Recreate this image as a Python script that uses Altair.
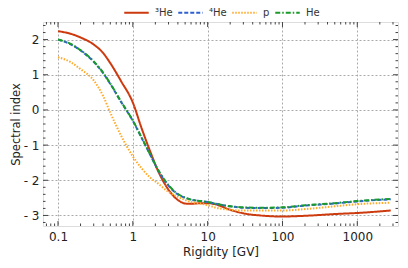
import altair as alt
import pandas as pd

# Rigidity grid (GV)
rigidity = [0.1, 0.15, 0.2, 0.3, 0.4, 0.5, 0.7, 1, 1.3, 1.7, 2.2, 3, 4, 5, 6, 8,
            10, 13, 20, 30, 50, 100, 200, 500, 1000, 2800]

he3 = [2.24, 2.16, 2.06, 1.86, 1.62, 1.33, 0.81, 0.21, -0.50, -1.17, -1.76, -2.27,
       -2.56, -2.66, -2.67, -2.65, -2.65, -2.69, -2.84, -2.94, -3.00, -3.03, -3.01,
       -2.96, -2.93, -2.86]
he4 = [2.00, 1.86, 1.69, 1.37, 1.05, 0.74, 0.22, -0.31, -0.78, -1.27, -1.73, -2.15,
       -2.40, -2.50, -2.55, -2.59, -2.62, -2.67, -2.74, -2.78, -2.79, -2.78, -2.72,
       -2.66, -2.60, -2.54]
prot = [1.50, 1.35, 1.16, 0.84, 0.40, -0.08, -0.74, -1.32, -1.65, -1.92, -2.10, -2.33,
        -2.47, -2.56, -2.62, -2.66, -2.71, -2.78, -2.84, -2.86, -2.86, -2.86, -2.82,
        -2.74, -2.68, -2.64]
heall = [2.00, 1.87, 1.70, 1.38, 1.06, 0.75, 0.23, -0.30, -0.77, -1.26, -1.72, -2.14,
         -2.39, -2.49, -2.55, -2.59, -2.62, -2.67, -2.74, -2.77, -2.78, -2.77, -2.71,
         -2.65, -2.59, -2.53]

series_names = ["³He", "⁴He", "p", "He"]
series_colors = ["#cc3a0e", "#2f5fd0", "#ffaa2a", "#1a9a2a"]
series_dashes = [[1, 0], [4, 2], [1.5, 1.5], [5, 2, 1.5, 2]]

x_major = [0.1, 1, 10, 100, 1000]
x_minor = [m * d for d in [0.01, 0.1, 1, 10, 100, 1000] for m in range(2, 10)]
x_minor = [v for v in x_minor if 0.063 < v < 3500]
y_major = [-3, -2, -1, 0, 1, 2]
y_minor = [v / 5 for v in range(-16, 13) if v % 5 != 0]

rows = []
for name, vals in zip(series_names, [he3, he4, prot, heall]):
    for r, v in zip(rigidity, vals):
        rows.append({"R": r, "idx": v, "series": name})
df = pd.DataFrame(rows)

W, H = 355, 204
xscale = alt.Scale(type="log", domain=[0.063, 3500], nice=False)
yscale = alt.Scale(domain=[-3.3, 2.5], nice=False, zero=False)

xaxis = alt.Axis(values=x_major, format="~g", tickSize=0, labelPadding=5,
                 grid=True, gridDash=[2, 2], gridColor="#aaaaaa", domain=False,
                 labelFontSize=12, titleFontSize=12, titlePadding=4,
                 labelFont="DejaVu Sans", titleFont="DejaVu Sans",
                 titleFontWeight="normal", labelColor="#222", titleColor="#222")
yaxis = alt.Axis(values=y_major, tickSize=0, labelPadding=4,
                 labelExpr="datum.value < 0 ? '- ' + abs(datum.value) : '' + datum.value",
                 grid=True, gridDash=[2, 2], gridColor="#aaaaaa", domain=False,
                 labelFontSize=12, titleFontSize=11.5, titlePadding=2,
                 labelFont="DejaVu Sans", titleFont="DejaVu Sans",
                 titleFontWeight="normal", labelColor="#222", titleColor="#222")
XT = "Rigidity [GV]"
YT = "Spectral index"

leg = alt.Legend(title=None, orient="none", legendX=80, legendY=-23, direction="horizontal",
                 symbolType="stroke", symbolSize=600, symbolStrokeWidth=2.2,
                 labelFontSize=10, labelFont="DejaVu Sans", labelColor="#333",
                 columnPadding=0, labelOffset=5)

lines = alt.Chart(df).mark_line(strokeWidth=2, clip=True, interpolate="monotone").encode(
    x=alt.X("R:Q", scale=xscale, title=XT, axis=xaxis),
    y=alt.Y("idx:Q", scale=yscale, title=YT, axis=yaxis),
    color=alt.Color("series:N", scale=alt.Scale(domain=series_names, range=series_colors), legend=leg),
    strokeDash=alt.StrokeDash("series:N", scale=alt.Scale(domain=series_names, range=series_dashes), legend=leg),
)

def xticks(vals, length):
    d = pd.DataFrame({"v": vals})
    base = alt.Chart(d).mark_rule(color="#444", strokeWidth=1)
    bot = base.encode(x=alt.X("v:Q", scale=xscale, title=XT, axis=xaxis), y=alt.value(H), y2=alt.value(H - length))
    top = base.encode(x=alt.X("v:Q", scale=xscale, title=XT, axis=xaxis), y=alt.value(0), y2=alt.value(length))
    return [bot, top]

def yticks(vals, length):
    d = pd.DataFrame({"v": vals})
    base = alt.Chart(d).mark_rule(color="#444", strokeWidth=1)
    left = base.encode(y=alt.Y("v:Q", scale=yscale, title=YT, axis=yaxis), x=alt.value(0), x2=alt.value(length))
    right = base.encode(y=alt.Y("v:Q", scale=yscale, title=YT, axis=yaxis), x=alt.value(W), x2=alt.value(W - length))
    return [left, right]

layers = [lines] + xticks(x_major, 5) + xticks(x_minor, 2.5) + yticks(y_major, 5) + yticks(y_minor, 2.5)

chart = alt.layer(*layers).properties(
    width=W, height=H,
    autosize=alt.AutoSizeParams(type="none"),
    padding={"left": 35, "top": 14, "right": 2, "bottom": 34},
).configure_view(stroke="#444", strokeWidth=1.5).configure(background="white")

chart.save("out.html", embed_options={"renderer": "svg", "actions": False})
